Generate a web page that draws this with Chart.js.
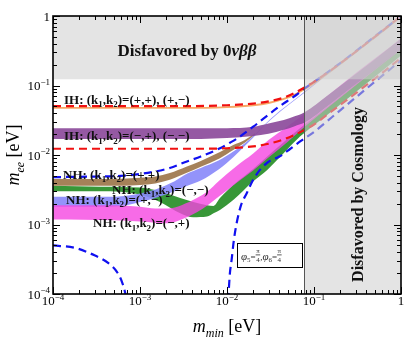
<!DOCTYPE html>
<html>
<head>
<meta charset="utf-8">
<script src="https://cdn.jsdelivr.net/npm/chart.js@4.4.1/dist/chart.umd.min.js"></script>
<style>
  html, body { margin: 0; padding: 0; background: #fff; }
</style>
</head>
<body>
<canvas id="meeChart" width="407" height="338"></canvas>
<script>
// axis ticks (decades)
const decades = [1e-4, 1e-3, 1e-2, 1e-1, 1];
const decadeExp = ['4', '3', '2', '1', ''];

// excluded regions
const zeroNuLimit = 0.123;   // m_ee above this is disfavored
const cosmoLimit = 0.0774;   // m_min above this is disfavored

// IH bounds (red dashed)
const ihMaxX = [1e-4, 3e-3, 0.01, 0.02, 0.03, 0.045, 0.06, 0.077, 0.1, 0.15, 0.3, 0.6, 1];
const ihMaxY = [0.0505, 0.0505, 0.052, 0.055, 0.059, 0.067, 0.078, 0.093, 0.113, 0.16, 0.305, 0.6, 1.0];
const ihMinX = [1e-4, 5e-3, 0.01, 0.02, 0.03, 0.045, 0.06, 0.077, 0.1, 0.14, 0.3, 0.6, 1];
const ihMinY = [0.0123, 0.0123, 0.0125, 0.0133, 0.0145, 0.0168, 0.0195, 0.0228, 0.0275, 0.0376, 0.077, 0.15, 0.25];

// NH bounds (blue dashed)
const nhMaxX = [1e-4, 3e-4, 6e-4, 1.4e-3, 2.2e-3, 3.4e-3, 5e-3, 8.3e-3, 0.0108, 0.013, 0.02, 0.026, 0.04, 0.0625, 0.077, 0.1, 0.2, 0.5, 1];
const nhMaxY = [0.0048, 0.0049, 0.005, 0.0057, 0.0065, 0.008, 0.0095, 0.0125, 0.015, 0.0172, 0.0255, 0.033, 0.05, 0.073, 0.09, 0.113, 0.21, 0.51, 1.0];
const nhMinAX = [1e-4, 1.8e-4, 3e-4, 4.3e-4, 5.4e-4, 6.2e-4, 6.8e-4, 7e-4];
const nhMinAY = [5e-4, 4.6e-4, 3.6e-4, 2.8e-4, 2.1e-4, 1.5e-4, 1.0e-4, 8e-5];
const nhMinBX = [0.0102, 0.0104, 0.0108, 0.0113, 0.012, 0.0129, 0.0145, 0.0168, 0.02, 0.0239, 0.03, 0.04, 0.053, 0.07, 0.1, 0.2, 0.5, 1];
const nhMinBY = [8e-5, 1e-4, 2e-4, 3.1e-4, 6e-4, 1.04e-3, 1.9e-3, 2.8e-3, 4.4e-3, 6.1e-3, 8e-3, 9.5e-3, 0.0122, 0.0158, 0.0215, 0.044, 0.113, 0.23];

// IH (k1,k2)=(+,+),(+,-): thin orange line
const ihPlusX = [1e-4, 3e-3, 0.01, 0.02, 0.03, 0.045, 0.06, 0.077, 0.1, 0.15, 0.3, 0.6, 1];
const ihPlusY = [0.0475, 0.0475, 0.049, 0.052, 0.056, 0.064, 0.074, 0.088, 0.108, 0.155, 0.3, 0.59, 0.98];

// IH (k1,k2)=(-,+),(-,-): purple band
const ihMinusX = [1e-4, 1e-3, 5e-3, 0.01, 0.02, 0.03, 0.045, 0.06, 0.077, 0.15, 0.3, 0.6, 1];
const ihMinusHi = [0.0242, 0.0242, 0.0242, 0.0243, 0.0255, 0.0285, 0.032, 0.036, 0.041, 0.075, 0.145, 0.285, 0.47];
const ihMinusLo = [0.017, 0.017, 0.017, 0.0175, 0.0187, 0.0202, 0.023, 0.026, 0.029, 0.053, 0.104, 0.2, 0.33];

// NH (+,+): brown band
const nhPPX = [1e-4, 4e-4, 1e-3, 1.5e-3, 2.2e-3, 3.4e-3, 5e-3, 8.3e-3, 0.0118, 0.016, 0.021];
const nhPPHi = [0.0045, 0.0045, 0.0047, 0.0049, 0.0055, 0.0068, 0.0082, 0.011, 0.0139, 0.0165, 0.0205];
const nhPPLo = [0.0036, 0.0036, 0.0037, 0.0039, 0.0044, 0.0055, 0.0068, 0.009, 0.0118, 0.015, 0.0195];

// NH (+,-): lavender band, narrowing into a thin line
const nhPMX = [1e-4, 4e-4, 7e-4, 1e-3, 1.5e-3, 2.5e-3, 3.5e-3, 5e-3, 8e-3, 0.0118, 0.016, 0.021, 0.026, 0.04, 0.0625, 0.1, 0.2, 0.5, 1];
const nhPMHi = [0.0025, 0.0025, 0.0026, 0.0028, 0.0032, 0.0042, 0.0054, 0.0065, 0.0083, 0.0112, 0.0148, 0.0198, 0.0262, 0.0425, 0.0655, 0.104, 0.205, 0.505, 0.99];
const nhPMLo = [0.0018, 0.0018, 0.0019, 0.0021, 0.0024, 0.003, 0.0036, 0.0043, 0.0062, 0.0093, 0.0135, 0.019, 0.0255, 0.0413, 0.064, 0.101, 0.2, 0.495, 0.97];

// NH (-,+): magenta band
const nhMPX = [1e-4, 5e-4, 1e-3, 1.5e-3, 2.1e-3, 3e-3, 4.5e-3, 6e-3, 8e-3, 0.0126, 0.02, 0.03, 0.05, 0.077, 0.15, 0.3, 0.6, 1];
const nhMPHi = [0.0019, 0.0019, 0.0018, 0.0017, 0.0017, 0.0019, 0.0024, 0.003, 0.0042, 0.0068, 0.0105, 0.0164, 0.026, 0.039, 0.075, 0.15, 0.29, 0.48];
const nhMPLo = [0.00118, 0.00115, 0.0011, 0.00106, 0.00104, 0.00118, 0.0015, 0.0019, 0.0025, 0.0039, 0.006, 0.0092, 0.0155, 0.025, 0.05, 0.1, 0.2, 0.33];

// NH (-,-): green band
const nhMMX = [1e-4, 3.5e-4, 1e-3, 1.7e-3, 2.9e-3, 4.1e-3, 5.9e-3, 7e-3, 8.3e-3, 0.0118, 0.02, 0.029, 0.069, 0.15, 0.3, 0.6, 1];
const nhMMHi = [0.0036, 0.0035, 0.0034, 0.003, 0.0024, 0.0021, 0.0019, 0.00185, 0.0024, 0.0037, 0.0063, 0.0095, 0.0242, 0.052, 0.104, 0.205, 0.34];
const nhMMLo = [0.003, 0.003, 0.0027, 0.0021, 0.00145, 0.00127, 0.0013, 0.00145, 0.00162, 0.00225, 0.0042, 0.0061, 0.0184, 0.04, 0.08, 0.16, 0.27];

const FAM = "'Liberation Serif','DejaVu Serif',serif";

function pts(xs, ys) {
  return xs.map((x, i) => ({ x: x, y: ys[i] }));
}

const datasets = [];

function addLine(xs, ys, color, width, dash, order) {
  datasets.push({
    data: pts(xs, ys),
    borderColor: color,
    borderWidth: width,
    borderDash: dash,
    pointRadius: 0,
    fill: false,
    cubicInterpolationMode: 'monotone',
    order: order
  });
}

function addBand(xs, hi, lo, color, order) {
  const hiIndex = datasets.length;
  datasets.push({
    data: pts(xs, hi),
    borderWidth: 0,
    pointRadius: 0,
    fill: false,
    cubicInterpolationMode: 'monotone',
    order: order
  });
  datasets.push({
    data: pts(xs, lo),
    borderWidth: 0,
    pointRadius: 0,
    fill: hiIndex,
    backgroundColor: color,
    cubicInterpolationMode: 'monotone',
    order: order
  });
}

// bands (higher order = drawn further back)
addBand(nhMMX, nhMMHi, nhMMLo, 'rgba(45,145,45,0.95)', 9);
addBand(nhPPX, nhPPHi, nhPPLo, 'rgba(160,122,80,0.95)', 8);
addBand(nhPMX, nhPMHi, nhPMLo, 'rgba(135,135,250,0.9)', 7);
addBand(nhMPX, nhMPHi, nhMPLo, 'rgba(245,70,225,0.8)', 6);
addBand(ihMinusX, ihMinusHi, ihMinusLo, 'rgba(140,75,155,0.92)', 5);
addLine(ihPlusX, ihPlusY, '#f7a866', 1.8, [], 4);

// bounds
addLine(nhMinAX, nhMinAY, '#1010f0', 2.2, [8, 5], 1);
addLine(nhMinBX, nhMinBY, '#1010f0', 2.2, [8, 5], 1);
addLine(nhMaxX, nhMaxY, '#1010f0', 2.2, [8, 5], 1);
addLine(ihMinX, ihMinY, '#f01010', 2.2, [8, 5], 0);
addLine(ihMaxX, ihMaxY, '#f01010', 2.2, [8, 5], 0);

function fontStr(size, st, bold) {
  return (st.indexOf('i') >= 0 ? 'italic ' : '') + ((bold || st.indexOf('b') >= 0) ? 'bold ' : '') + size + 'px ' + FAM;
}

// draw text made of parts [text, style]; style: i italic, b bold, s subscript, u superscript
function rich(ctx, parts, x, y, size, align, bold) {
  const items = parts.map(p => {
    const st = p[1] || '';
    const small = st.indexOf('s') >= 0 || st.indexOf('u') >= 0;
    const fs = small ? Math.round(size * 0.68) : size;
    const font = fontStr(fs, st, bold);
    ctx.font = font;
    const dy = st.indexOf('s') >= 0 ? size * 0.28 : (st.indexOf('u') >= 0 ? -size * 0.42 : 0);
    return { t: p[0], font: font, w: ctx.measureText(p[0]).width, dy: dy };
  });
  const total = items.reduce((s, it) => s + it.w, 0);
  let cx = align === 'center' ? x - total / 2 : (align === 'right' ? x - total : x);
  ctx.textAlign = 'left';
  ctx.textBaseline = 'alphabetic';
  items.forEach(it => {
    ctx.font = it.font;
    ctx.fillText(it.t, cx, y + it.dy);
    cx += it.w;
  });
  return total;
}

// "k_1" -> subscript 1
function withSubs(str) {
  const parts = [];
  const bits = str.split(/_(.)/);
  bits.forEach((b, i) => {
    if (b === '') return;
    parts.push(i % 2 ? [b, 's'] : [b, '']);
  });
  return parts;
}

function powLabel(i) {
  if (decadeExp[i] === '') return [['1', '']];
  return [['10', ''], ['\u2212' + decadeExp[i], 'u']];
}

const bandLabels = [
  ['IH: (k_1,k_2)=(+,+), (+,\u2212)', 64, 103.5],
  ['IH: (k_1,k_2)=(\u2212,+), (\u2212,\u2212)', 64, 140],
  ['NH: (k_1,k_2)=(+,+)', 63, 178.5],
  ['NH: (k_1,k_2)=(\u2212,\u2212)', 112, 193.5],
  ['NH: (k_1,k_2)=(+,\u2212)', 66, 203.5],
  ['NH: (k_1,k_2)=(\u2212,+)', 93, 227]
];

const decor = {
  id: 'decor',
  afterDatasetsDraw(chart) {
    const ctx = chart.ctx;
    const a = chart.chartArea;
    const xs = chart.scales.x;
    const ys = chart.scales.y;
    ctx.save();

    // disfavored regions
    ctx.fillStyle = 'rgba(205,205,205,0.55)';
    const yLim = ys.getPixelForValue(zeroNuLimit);
    ctx.fillRect(a.left, a.top, a.right - a.left, yLim - a.top);
    const xLim = xs.getPixelForValue(cosmoLimit);
    ctx.fillRect(xLim, a.top, a.right - xLim, a.bottom - a.top);
    ctx.strokeStyle = '#555';
    ctx.lineWidth = 1;
    ctx.beginPath();
    ctx.moveTo(Math.round(xLim) + 0.5, a.top);
    ctx.lineTo(Math.round(xLim) + 0.5, a.bottom);
    ctx.stroke();

    ctx.fillStyle = '#111';
    // band labels
    bandLabels.forEach(l => rich(ctx, withSubs(l[0]), l[1], l[2], 13, 'left', true));

    // region titles
    rich(ctx, [['Disfavored by 0', ''], ['\u03bd\u03b2\u03b2', 'i']], 187, 56, 17, 'center', true);
    ctx.save();
    ctx.translate(363, 194.5);
    ctx.rotate(-Math.PI / 2);
    rich(ctx, [['Disfavored by Cosmology', '']], 0, 0, 16, 'center', true);
    ctx.restore();

    // phase box
    ctx.fillStyle = '#fff';
    ctx.fillRect(237.5, 243.5, 65, 24);
    ctx.strokeStyle = '#000';
    ctx.lineWidth = 1;
    ctx.strokeRect(237.5, 243.5, 65, 24);
    ctx.fillStyle = '#333';
    let cx = 241;
    const base = 260;
    const seg = (t, size, st, dy) => {
      ctx.font = fontStr(size, st);
      ctx.fillText(t, cx, base + (dy || 0));
      cx += ctx.measureText(t).width;
    };
    const frac = (n, d) => {
      ctx.font = fontStr(7, '');
      const w = Math.max(ctx.measureText(n).width, ctx.measureText(d).width) + 1;
      ctx.textAlign = 'center';
      ctx.fillText(n, cx + w / 2, base - 7);
      ctx.fillText(d, cx + w / 2, base + 1.5);
      ctx.textAlign = 'left';
      ctx.fillRect(cx, base - 5.5, w, 0.8);
      cx += w;
    };
    ctx.textAlign = 'left';
    seg('\u03c6', 11, 'i'); seg('5', 7, '', 2); seg('=', 9, '');
    frac('\u03c0', '4'); seg(',', 9, '');
    seg('\u03c6', 11, 'i'); seg('6', 7, '', 2); seg('=', 9, '');
    frac('\u03c0', '4');

    // ticks on all four sides, pointing inwards
    ctx.strokeStyle = '#000';
    ctx.lineWidth = 1;
    ctx.beginPath();
    for (let d = 0; d < decades.length; d++) {
      for (let k = 1; k <= 9; k++) {
        const v = decades[d] * k;
        if (v > 1.0000001) break;
        const len = k === 1 ? 7 : 4;
        const px = Math.round(xs.getPixelForValue(v)) + 0.5;
        ctx.moveTo(px, a.bottom); ctx.lineTo(px, a.bottom - len);
        ctx.moveTo(px, a.top); ctx.lineTo(px, a.top + len);
        const py = Math.round(ys.getPixelForValue(v)) + 0.5;
        ctx.moveTo(a.left, py); ctx.lineTo(a.left + len, py);
        ctx.moveTo(a.right, py); ctx.lineTo(a.right - len, py);
      }
    }
    ctx.stroke();

    // frame
    ctx.lineWidth = 1.6;
    ctx.strokeRect(a.left, a.top, a.right - a.left, a.bottom - a.top);

    // tick labels
    ctx.fillStyle = '#000';
    decades.forEach((v, i) => {
      rich(ctx, powLabel(i), xs.getPixelForValue(v), a.bottom + 11, 13, 'center');
      rich(ctx, powLabel(i), a.left - 3, ys.getPixelForValue(v) + 4.5, 13, 'right');
    });

    // axis titles
    rich(ctx, [['m', 'i'], ['min', 'is'], [' [eV]', '']], (a.left + a.right) / 2, 332, 18, 'center');
    ctx.save();
    ctx.translate(18.5, 155);
    ctx.rotate(-Math.PI / 2);
    rich(ctx, [['m', 'i'], ['ee', 'is'], [' [eV]', '']], 0, 0, 18, 'center');
    ctx.restore();

    ctx.restore();
  }
};

new Chart(document.getElementById('meeChart').getContext('2d'), {
  type: 'line',
  data: { datasets: datasets },
  options: {
    responsive: false,
    animation: false,
    layout: { padding: { left: 53, right: 6, top: 16, bottom: 44 } },
    plugins: { legend: { display: false }, tooltip: { enabled: false } },
    scales: {
      x: { type: 'logarithmic', min: 1e-4, max: 1, display: false },
      y: { type: 'logarithmic', min: 1e-4, max: 1, display: false }
    }
  },
  plugins: [decor]
});
</script>
</body>
</html>
